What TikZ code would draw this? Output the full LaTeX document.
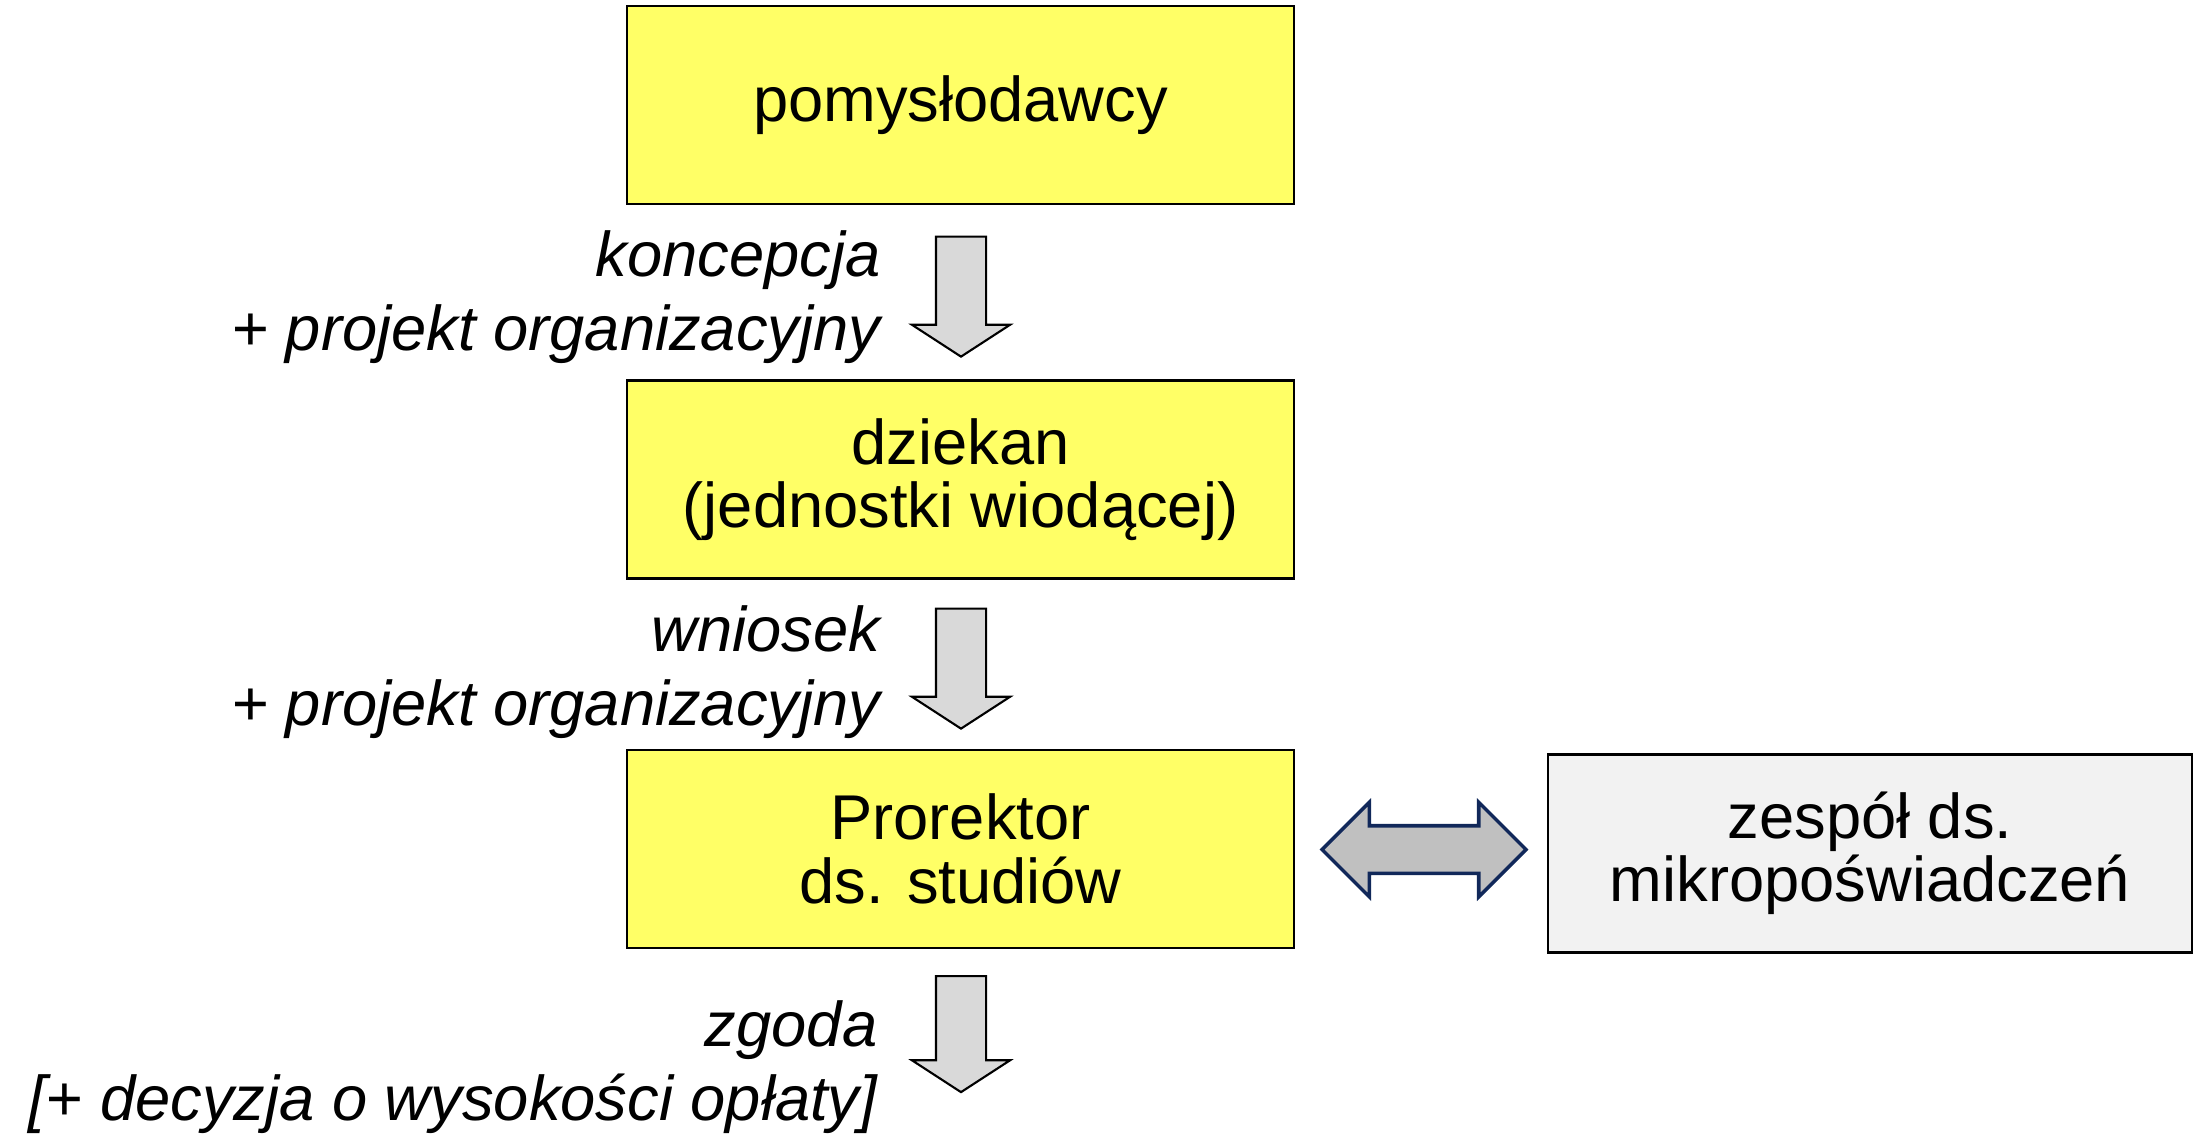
\documentclass[tikz,border=0pt]{standalone}
\usepackage{fontspec}
\setmainfont{Liberation Sans}
\usetikzlibrary{shapes.arrows}

\definecolor{boxyellow}{HTML}{FFFF66}
\definecolor{teamgray}{HTML}{F2F2F2}
\definecolor{arrowgray}{HTML}{D9D9D9}
\definecolor{linkgray}{HTML}{C0C0C0}
\definecolor{linknavy}{RGB}{17,40,90}

\begin{document}
\begin{tikzpicture}[
    font=\fontsize{18}{18}\selectfont,
    box/.style={draw, line width=0.8pt, fill=boxyellow, minimum width=6.67cm, minimum height=1.98cm, align=center},
    downarrow/.style={single arrow, draw, line width=0.6pt, fill=arrowgray, rotate=-90, minimum height=1.2cm, minimum width=0.96cm,
        single arrow head extend=0.24cm, single arrow tip angle=114, single arrow head indent=0pt, inner xsep=0pt, inner ysep=0.24cm},
    twoway/.style={double arrow, draw=linknavy, line width=1pt, fill=linkgray, minimum height=2.04cm, minimum width=0.91cm,
        double arrow head extend=0.235cm, double arrow tip angle=90, double arrow head indent=0pt, inner xsep=0pt, inner ysep=0.22cm},
    lbl/.style={anchor=east, align=right, inner sep=0pt, font=\fontsize{18}{21}\selectfont\itshape}
]
\useasboundingbox (0,0) rectangle (21.93,11.33);

\node[box] (pom) at (9.605,10.28) {pomysłodawcy};
\node[box] (dzi) at (9.605,6.535) {dziekan\\(jednostki wiodącej)};
\node[box] (pro) at (9.605,2.84) {Prorektor\\ds. studiów};
\node[box, fill=teamgray, minimum width=6.44cm] (zes) at (18.70,2.795) {zespół ds.\\mikropoświadczeń};

% arrows between the boxes
\node[downarrow] (ar1) at (9.61,8.445) {};
\node[downarrow] (ar2) at (9.61,4.725) {};
\node[downarrow, minimum height=1.16cm] (ar3) at (9.61,1.07) {};
\node[twoway] (link) at (14.24,2.835) {};

\node[lbl] (l1) at (8.81,8.36) {koncepcja\\+ projekt organizacyjny};
\node[lbl] (l2) at (8.81,4.61) {wniosek\\+ projekt organizacyjny};
\node[lbl] (l3) at (8.78,0.655) {zgoda\\{}[+ decyzja o wysokości opłaty]};

\end{tikzpicture}
\end{document}
